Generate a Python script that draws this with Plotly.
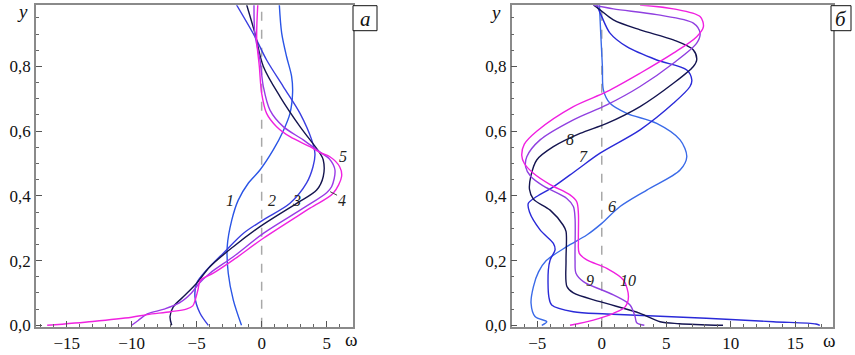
import plotly.graph_objects as go

# ---------------- data: panel a ----------------
c1_w = [-1.55, -2.18, -2.57, -2.65, -2.3, -1.8, -1.03, -0.13, 0.89, 1.65, 2.18, 2.38, 2.3, 1.92, 1.54, 1.36]
c1_y = [0.0, 0.078, 0.161, 0.243, 0.325, 0.387, 0.439, 0.48, 0.542, 0.6, 0.655, 0.72, 0.77, 0.83, 0.903, 0.99]

c2_w = [-4.1, -4.75, -5.13, -5.0, -4.23, -2.95, -1.42, 0.13, 2.18, 3.46, 3.95, 4.1, 3.85, 2.95, 1.66, 0.38, -0.52, -1.93]
c2_y = [0.0, 0.038, 0.088, 0.13, 0.171, 0.223, 0.284, 0.326, 0.377, 0.44, 0.49, 0.53, 0.573, 0.655, 0.738, 0.82, 0.892, 0.99]

c3_w = [-6.92, -7.05, -6.8, -6.03, -5.0, -3.98, -2.18, -0.13, 2.69, 4.23, 4.74, 4.74, 4.48, 2.95, 1.41, 0.13, -0.52, -1.15]
c3_y = [0.0, 0.027, 0.057, 0.088, 0.13, 0.181, 0.243, 0.305, 0.377, 0.418, 0.46, 0.511, 0.532, 0.614, 0.707, 0.8, 0.903, 0.99]

c4_w = [-10.0, -9.5, -8.8, -7.5, -6.3, -5.4, -4.8, -3.98, -2.18, 0.13, 3.2, 5.0, 5.38, 5.64, 5.2, 4.6, 3.2, 1.66, 0.64, 0.13, -0.13, -0.52, -0.59]
c4_y = [0.0, 0.015, 0.035, 0.05, 0.07, 0.1, 0.13, 0.161, 0.212, 0.284, 0.362, 0.41, 0.428, 0.48, 0.515, 0.532, 0.573, 0.614, 0.665, 0.738, 0.82, 0.9, 0.99]

c5_w = [-16.5, -13.0, -10.0, -8.8, -7.0, -5.8, -5.3, -5.1, -4.9, -4.7, -3.72, -2.18, 0.13, 3.72, 5.5, 6.15, 6.0, 5.25, 4.6, 3.72, 2.18, 1.15, 0.38, 0.0, -0.18, -0.38, -0.3]
c5_y = [0.0, 0.012, 0.025, 0.033, 0.042, 0.05, 0.06, 0.08, 0.11, 0.14, 0.161, 0.202, 0.269, 0.362, 0.408, 0.46, 0.49, 0.521, 0.532, 0.552, 0.583, 0.614, 0.655, 0.717, 0.8, 0.882, 0.99]

# ---------------- data: panel б ----------------
c6_w = [-4.65, -4.26, -5.17, -5.48, -5.3, -4.9, -4.3, -2.71, -1.16, 0.0, 1.42, 3.49, 6.07, 6.59, 6.07, 4.26, 1.94, 0.64, 0.13, 0.05, -0.08, -0.18]
c6_y = [0.0, 0.011, 0.027, 0.068, 0.119, 0.165, 0.2, 0.243, 0.279, 0.315, 0.367, 0.418, 0.48, 0.521, 0.573, 0.624, 0.655, 0.686, 0.727, 0.8, 0.903, 0.99]

c7_w = [16.9, 16.6, 13.3, 8.1, 0.39, -2.2, -3.88, -4.1, -4.14, -4.0, -3.62, -3.75, -4.78, -5.6, -5.69, -5.04, -3.75, -1.94, -0.13, 2.97, 5.55, 6.84, 6.98, 6.59, 4.26, 1.94, 0.64, 0.0, -0.39]
c7_y = [0.0, 0.004, 0.011, 0.022, 0.035, 0.042, 0.063, 0.088, 0.171, 0.202, 0.233, 0.253, 0.295, 0.35, 0.377, 0.398, 0.428, 0.48, 0.532, 0.604, 0.686, 0.738, 0.758, 0.789, 0.82, 0.861, 0.903, 0.954, 0.99]

c8_w = [9.4, 6.0, 4.52, 2.97, -0.13, -2.2, -2.7, -2.77, -2.77, -3.0, -4.0, -5.3, -5.6, -5.5, -5.04, -3.75, -1.68, 0.39, 2.97, 5.55, 7.1, 7.36, 7.1, 5.55, 2.97, 0.9, -0.13, -0.65]
c8_y = [0.0, 0.005, 0.011, 0.037, 0.073, 0.1, 0.12, 0.2, 0.29, 0.31, 0.356, 0.39, 0.42, 0.46, 0.511, 0.552, 0.593, 0.624, 0.676, 0.748, 0.8, 0.82, 0.851, 0.882, 0.913, 0.944, 0.975, 0.99]

c9_w = [3.3, 2.71, 2.58, 2.19, 0.9, -1.42, -2.0, -2.07, -2.07, -2.2, -2.71, -4.5, -5.5, -5.9, -5.81, -4.78, -2.2, 0.39, 2.97, 5.55, 7.36, 7.62, 7.1, 4.26, 0.9, -0.65]
c9_y = [0.0, 0.008, 0.027, 0.063, 0.094, 0.135, 0.161, 0.2, 0.33, 0.367, 0.392, 0.43, 0.46, 0.49, 0.521, 0.573, 0.635, 0.681, 0.738, 0.81, 0.872, 0.903, 0.934, 0.96, 0.978, 0.99]

c10_w = [-2.46, -0.65, 0.9, 1.81, 2.07, 1.68, 0.39, -1.16, -1.75, -1.81, -1.81, -1.94, -2.46, -4.0, -5.3, -6.0, -6.2, -6.0, -5.04, -2.2, 0.39, 2.97, 5.55, 7.36, 7.88, 7.62, 5.55, 2.97]
c10_y = [0.0, 0.016, 0.037, 0.057, 0.088, 0.14, 0.176, 0.202, 0.223, 0.26, 0.346, 0.382, 0.403, 0.435, 0.47, 0.5, 0.525, 0.56, 0.6, 0.676, 0.722, 0.779, 0.841, 0.892, 0.923, 0.954, 0.978, 0.99]

y_ticks = [0.0, 0.2, 0.4, 0.6, 0.8]
y_ticktext = ["0,0", "0,2", "0,4", "0,6", "0,8"]
xa_ticks = [-15, -10, -5, 0, 5]
xa_ticktext = ["\u221215", "\u221210", "\u22125", "0", "5"]
xb_ticks = [-5, 0, 5, 10, 15]
xb_ticktext = ["\u22125", "0", "5", "10", "15"]

panel_a = [(c1_w, c1_y, "#2a55e6"), (c2_w, c2_y, "#3a3ee0"), (c3_w, c3_y, "#15154f"),
           (c4_w, c4_y, "#9a3ae6"), (c5_w, c5_y, "#f022e0")]
panel_b = [(c6_w, c6_y, "#3a6ae8"), (c7_w, c7_y, "#2a2ad8"), (c8_w, c8_y, "#141450"),
           (c9_w, c9_y, "#9040e0"), (c10_w, c10_y, "#f020e0")]

fig = go.Figure()
for w, y, col in panel_a:
    fig.add_trace(go.Scatter(x=w, y=y, mode="lines", line=dict(color=col, width=1.4, shape="spline", smoothing=0.9),
                             xaxis="x", yaxis="y", showlegend=False, hoverinfo="skip"))
for w, y, col in panel_b:
    fig.add_trace(go.Scatter(x=w, y=y, mode="lines", line=dict(color=col, width=1.4, shape="spline", smoothing=0.9),
                             xaxis="x2", yaxis="y2", showlegend=False, hoverinfo="skip"))

SERIF = "Liberation Serif, Times New Roman, serif"
axis_common = dict(showline=True, mirror=True, linecolor="#8a8a8a", linewidth=1.5, showgrid=False, zeroline=False,
                   ticks="inside", ticklen=6, tickcolor="#555555", tickwidth=1, automargin=False,
                   tickfont=dict(family=SERIF, size=17, color="#111111"))

ydom = [(355 - 326.7) / 355, (355 - 5.3) / 355]
yr = [-0.0043, 0.989]

fig.update_layout(
    width=855, height=355, margin=dict(l=0, r=0, t=0, b=0, pad=0), autosize=False,
    paper_bgcolor="white", plot_bgcolor="white",
    xaxis=dict(domain=[36 / 855, 353.3 / 855], range=[-17.36, 7.05], tickmode="array", tickvals=xa_ticks,
               ticktext=xa_ticktext, minor=dict(dtick=1, tick0=0, ticks="inside", ticklen=3, tickcolor="#666666"),
               anchor="y", **axis_common),
    yaxis=dict(domain=ydom, range=yr, tickmode="array", tickvals=y_ticks, ticktext=y_ticktext,
               minor=dict(dtick=0.05, tick0=0, ticks="inside", ticklen=3, tickcolor="#666666"),
               anchor="x", **axis_common),
    xaxis2=dict(domain=[511.7 / 855, 832.7 / 855], range=[-6.98, 17.9], tickmode="array", tickvals=xb_ticks,
                ticktext=xb_ticktext, minor=dict(dtick=1, tick0=0, ticks="inside", ticklen=3, tickcolor="#666666"),
                anchor="y2", **axis_common),
    yaxis2=dict(domain=ydom, range=yr, tickmode="array", tickvals=y_ticks, ticktext=y_ticktext,
                minor=dict(dtick=0.05, tick0=0, ticks="inside", ticklen=3, tickcolor="#666666"),
                anchor="x2", **axis_common),
)

# dashed zero lines
for xr, yref in (("x", "y domain"), ("x2", "y2 domain")):
    fig.add_shape(type="line", xref=xr, yref=yref, x0=0, x1=0, y0=0, y1=1,
                  line=dict(color="#a8a8a8", width=1.5, dash="dash"), layer="below")

# curve labels
labels_a = [("1", -2.44, 0.387), ("2", 0.77, 0.387), ("3", 2.69, 0.387), ("4", 6.15, 0.387), ("5", 6.28, 0.521)]
labels_b = [("6", 0.78, 0.367), ("7", -1.43, 0.521), ("8", -2.46, 0.573), ("9", -0.91, 0.14), ("10", 2.06, 0.14)]
for t, x, y in labels_a:
    fig.add_annotation(x=x, y=y, xref="x", yref="y", text="<i>" + t + "</i>", showarrow=False,
                       xanchor="center", yanchor="middle", font=dict(family=SERIF, size=16, color="#222222"))
for t, x, y in labels_b:
    fig.add_annotation(x=x, y=y, xref="x2", yref="y2", text="<i>" + t + "</i>", showarrow=False,
                       xanchor="center", yanchor="middle", font=dict(family=SERIF, size=16, color="#222222"))
fig.add_shape(type="line", xref="x", yref="y", x0=5.27, y0=0.413, x1=5.8, y1=0.402,
              line=dict(color="#444444", width=1))

# axis titles
for x, y, t in ((22 / 855, 1 - 12 / 355, "<i>y</i>"), (495 / 855, 1 - 13 / 355, "<i>y</i>"),
                (351 / 855, 1 - 339 / 355, "\u03c9"), (829 / 855, 1 - 340 / 355, "\u03c9")):
    fig.add_annotation(x=x, y=y, xref="paper", yref="paper", text=t, showarrow=False,
                       xanchor="center", yanchor="middle", font=dict(family=SERIF, size=19, color="#111111"))

# panel letter boxes
for x0, x1, t in ((353 / 855, 377 / 855, "а"), (831 / 855, 851 / 855, "б")):
    fig.add_shape(type="rect", xref="paper", yref="paper", x0=x0, x1=x1, y0=1 - 30.7 / 355, y1=1 - 5.7 / 355,
                  line=dict(color="#111111", width=1), fillcolor="white")
    fig.add_annotation(x=(x0 + x1) / 2, y=1 - 18.5 / 355, xref="paper", yref="paper", text="<i>" + t + "</i>",
                       showarrow=False, xanchor="center", yanchor="middle",
                       font=dict(family=SERIF, size=21, color="#111111"))

post = (
    "document.documentElement.style.margin='0';document.documentElement.style.padding='0';"
    "document.documentElement.style.overflow='hidden';"
    "document.body.style.margin='0';document.body.style.padding='0';document.body.style.overflow='hidden';"
)
fig.write_html("out.html", config={"responsive": False, "displayModeBar": False}, post_script=post)
